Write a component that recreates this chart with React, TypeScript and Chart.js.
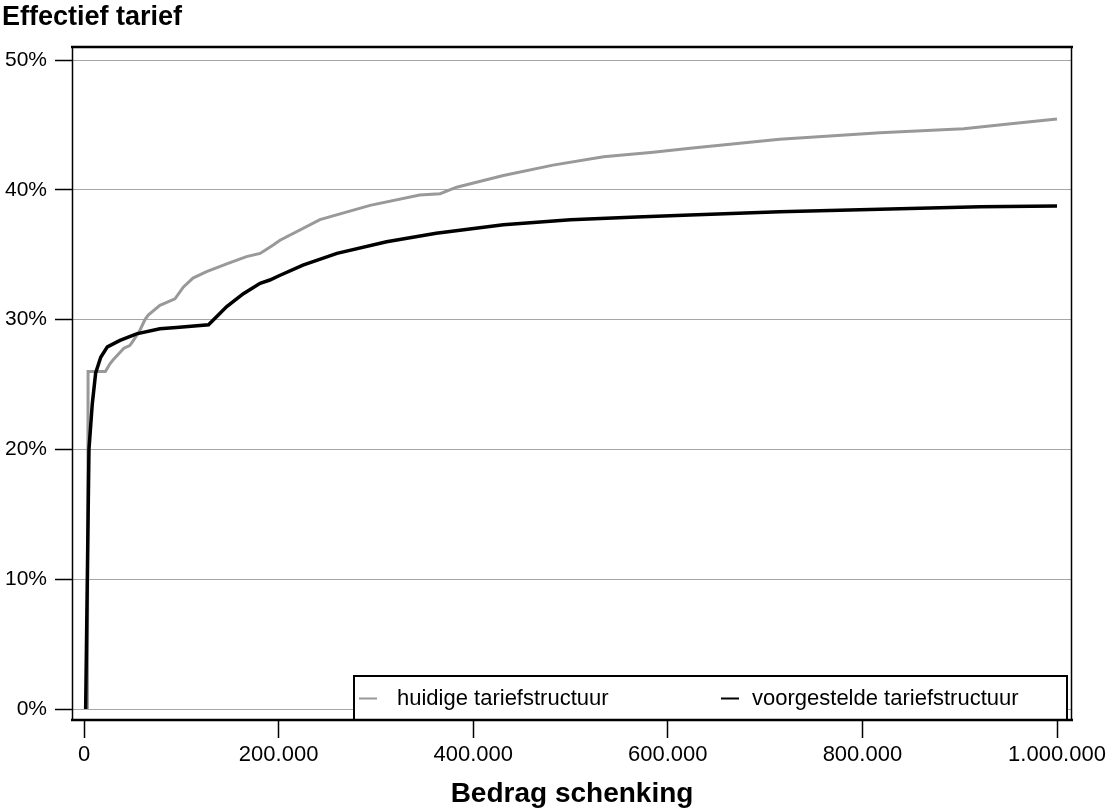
import React, { useEffect, useRef } from "react";
import { Chart, registerables } from "chart.js";

Chart.register(...registerables);

// ---- Data ----
const huidigeX = [3500, 4200, 22000, 26700, 30000, 41000, 47000, 50000, 57600, 62700, 66000, 78000, 93500, 102000, 112000, 126000, 146700, 167000, 181000, 194500, 201000, 242500, 294000, 345000, 366000, 383000, 431000, 482000, 534000, 585000, 623000, 715000, 818000, 904000, 955000, 1000000];
const huidigeY = [0, 26.0, 26.0, 26.6, 26.9, 27.8, 28.0, 28.3, 29.2, 30.0, 30.35, 31.1, 31.6, 32.5, 33.2, 33.7, 34.3, 34.85, 35.1, 35.75, 36.1, 37.7, 38.8, 39.6, 39.7, 40.2, 41.1, 41.9, 42.55, 42.9, 43.2, 43.9, 44.4, 44.7, 45.1, 45.45];

const voorgesteldeX = [1700, 3400, 5100, 8500, 12000, 17200, 24000, 37000, 54000, 78000, 95000, 128000, 146700, 163800, 181000, 191000, 201000, 225000, 260000, 311000, 362000, 431000, 500000, 568000, 623000, 715000, 818000, 921000, 1000000];
const voorgesteldeY = [0, 10, 20, 23.5, 25.9, 27.1, 27.9, 28.4, 28.9, 29.3, 29.4, 29.6, 31.0, 32.0, 32.8, 33.05, 33.4, 34.2, 35.1, 36.0, 36.65, 37.3, 37.7, 37.9, 38.05, 38.3, 38.5, 38.7, 38.75];

const seriesLabels = ["huidige tariefstructuur", "voorgestelde tariefstructuur"];
const seriesColors = ["#999999", "#000000"];
const xTickValues = [0, 200000, 400000, 600000, 800000, 1000000];
const yTickValues = [0, 10, 20, 30, 40, 50];
const yTitle = "Effectief tarief";
const xTitle = "Bedrag schenking";

const FONT = "'Liberation Sans', Arial, Helvetica, sans-serif";

const fmtThousands = (v: number) =>
  String(Math.round(v)).replace(/\B(?=(\d{3})+(?!\d))/g, ".");

const framePlugin = {
  id: "frameAndLegend",
  afterDraw(chart: any) {
    const { ctx, chartArea: a } = chart;
    ctx.save();
    ctx.strokeStyle = "#000";
    ctx.lineCap = "butt";
    const line = (x1: number, y1: number, x2: number, y2: number, w: number) => {
      ctx.lineWidth = w;
      ctx.beginPath();
      ctx.moveTo(x1, y1);
      ctx.lineTo(x2, y2);
      ctx.stroke();
    };
    // legend box inside the plot (bottom right)
    const lx = a.left + 281;
    const ly = a.bottom - 45;
    const lw = a.right - 4 - lx;
    const lh = a.bottom - ly;
    ctx.fillStyle = "#fff";
    ctx.fillRect(lx, ly, lw, lh);
    ctx.lineWidth = 2;
    ctx.strokeRect(lx + 1, ly + 1, lw - 2, lh - 1);
    const midY = ly + lh / 2 + 1;
    const ds = chart.data.datasets;
    const items = [
      { x: lx + 6, tx: lx + 44 },
      { x: lx + 368, tx: lx + 399 },
    ];
    ctx.font = `22px ${FONT}`;
    ctx.textBaseline = "middle";
    ctx.textAlign = "left";
    items.forEach((it, i) => {
      ctx.strokeStyle = ds[i].borderColor;
      line(it.x, midY, it.x + 18, midY, 2);
      ctx.fillStyle = "#000";
      ctx.fillText(ds[i].label, it.tx, midY);
    });
    // frame
    ctx.strokeStyle = "#000";
    line(a.left - 1, a.top + 1, a.right + 1, a.top + 1, 2.5);
    line(a.left - 1, a.bottom, a.right + 1, a.bottom, 2.5);
    line(a.left + 0.5, a.top, a.left + 0.5, a.bottom, 1.5);
    line(a.right - 0.5, a.top, a.right - 0.5, a.bottom, 1.5);
    // y-axis title at top-left
    ctx.fillStyle = "#000";
    ctx.font = `bold 27px ${FONT}`;
    ctx.textBaseline = "alphabetic";
    ctx.textAlign = "left";
    ctx.fillText(yTitle, 2, 25);
    ctx.restore();
  },
};

export default function App() {
  const canvasRef = useRef<HTMLCanvasElement | null>(null);

  useEffect(() => {
    if (!canvasRef.current) return;
    const chart = new Chart(canvasRef.current, {
      type: "line",
      data: {
        datasets: [
          {
            label: seriesLabels[0],
            data: huidigeX.map((x, i) => ({ x, y: huidigeY[i] })),
            borderColor: seriesColors[0],
            borderWidth: 3,
            pointRadius: 0,
            tension: 0,
            order: 2,
          },
          {
            label: seriesLabels[1],
            data: voorgesteldeX.map((x, i) => ({ x, y: voorgesteldeY[i] })),
            borderColor: seriesColors[1],
            borderWidth: 3.5,
            pointRadius: 0,
            tension: 0,
            order: 1,
          },
        ],
      },
      options: {
        animation: false,
        responsive: true,
        maintainAspectRatio: false,
        layout: { padding: { top: 46, right: 34, bottom: 0, left: 0 } },
        plugins: {
          legend: { display: false },
          tooltip: { enabled: false },
          title: { display: false },
        },
        scales: {
          x: {
            type: "linear",
            min: -12333,
            max: 1015416,
            afterFit: (s: any) => {
              s.height = 91;
              s.paddingRight = 0;
              s.paddingLeft = 0;
            },
            afterBuildTicks: (s: any) => {
              s.ticks = xTickValues.map((v) => ({ value: v }));
            },
            border: { display: false },
            grid: {
              drawOnChartArea: false,
              drawTicks: true,
              tickLength: 18,
              tickColor: "#000",
              tickWidth: 1.5,
            },
            ticks: {
              color: "#000",
              font: { size: 22, family: FONT },
              padding: 4,
              maxRotation: 0,
              autoSkip: false,
              callback: (v: any) => fmtThousands(Number(v)),
            },
            title: {
              display: true,
              text: xTitle,
              color: "#000",
              font: { size: 28, weight: "bold", family: FONT },
              padding: { top: 0, bottom: 0 },
            },
          },
          y: {
            type: "linear",
            min: -0.847,
            max: 51.079,
            afterFit: (s: any) => {
              s.width = 72;
            },
            afterBuildTicks: (s: any) => {
              s.ticks = yTickValues.map((v) => ({ value: v }));
            },
            border: { display: false },
            grid: {
              color: "#a6a6a6",
              lineWidth: 1,
              drawTicks: true,
              tickLength: 17,
              tickColor: "#000",
              tickWidth: 1.5,
            },
            ticks: {
              color: "#000",
              font: { size: 21, family: FONT },
              padding: 8,
              callback: (v: any) => `${v}%`,
            },
          },
        },
      },
      plugins: [framePlugin],
    });
    return () => chart.destroy();
  }, []);

  return (
    <div style={{ position: "absolute", left: 0, top: 0, width: 1106, height: 811, background: "#fff" }}>
      <canvas ref={canvasRef} />
    </div>
  );
}
